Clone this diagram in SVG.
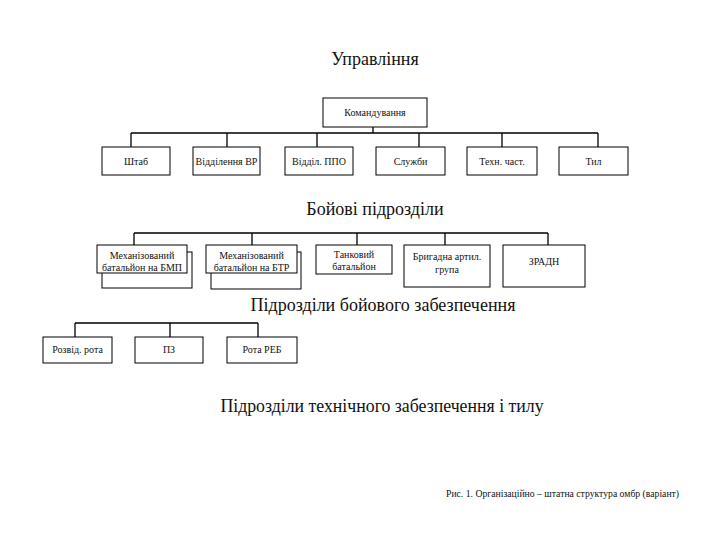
<svg xmlns="http://www.w3.org/2000/svg" width="720" height="540" viewBox="0 0 720 540">
<style>
text{font-family:"Liberation Serif","Times New Roman",serif;fill:#111;text-anchor:middle}
.h{font-size:18px}
.t{font-size:10px}
.c{font-size:9.7px;text-anchor:start}
.box{fill:#fff;stroke:#000;stroke-width:1}
.ln{fill:none;stroke:#000;stroke-width:1.3}
</style>
<rect width="720" height="540" fill="#fff"/>
<text class="h" x="375" y="65">Управління</text>
<text class="h" x="375" y="215">Бойові підрозділи</text>
<text class="h" x="383" y="311">Підрозділи бойового забезпечення</text>
<text class="h" x="382" y="412" style="font-size:17.8px">Підрозділи технічного забезпечення і тилу</text>
<text class="c" x="446" y="497">Рис. 1. Організаційно – штатна структура омбр (варіант)</text>
<g id="connectors">
<path class="ln" d="M373 127V133M131 133H598M131 133V147M227 133V147M317 133V147M419 133V147M502 133V147M598 133V147"/>
<path class="ln" d="M134 233H548M134 233V245M252 233V245M357 233V245M445 233V245M548 233V245"/>
<path class="ln" d="M75 323H258M75 323V337M170 323V337M258 323V337"/>
</g>
<g id="komanduvannia"><rect class="box" x="323" y="98" width="104" height="29"/><text class="t" x="375" y="116">Командування</text></g>
<g id="shtab"><rect class="box" x="102" y="147" width="68" height="28"/><text class="t" x="136" y="165">Штаб</text></g>
<g id="viddilennia-vr"><rect class="box" x="193" y="147" width="67" height="28"/><text class="t" x="226.5" y="165">Відділення ВР</text></g>
<g id="viddil-ppo"><rect class="box" x="285" y="147" width="68" height="28"/><text class="t" x="319" y="165">Відділ. ППО</text></g>
<g id="sluzhby"><rect class="box" x="376" y="147" width="69" height="28"/><text class="t" x="410.5" y="165">Служби</text></g>
<g id="tekhn-chast"><rect class="box" x="467" y="147" width="70" height="28"/><text class="t" x="502" y="165">Техн. част.</text></g>
<g id="tyl"><rect class="box" x="559" y="147" width="69" height="28"/><text class="t" x="593.5" y="165">Тил</text></g>
<g id="mb-bmp"><rect class="box" x="102" y="252" width="90" height="36"/><rect class="box" x="97" y="245" width="90" height="28"/><text class="t" x="142" y="259">Механізований</text><text class="t" x="142" y="271">батальйон на БМП</text></g>
<g id="mb-btr"><rect class="box" x="211" y="252" width="90" height="37"/><rect class="box" x="206" y="245" width="91" height="28"/><text class="t" x="251.5" y="259">Механізований</text><text class="t" x="251.5" y="271">батальйон на БТР</text></g>
<g id="tankovyi"><rect class="box" x="316" y="245" width="76" height="29"/><text class="t" x="354" y="258">Танковий</text><text class="t" x="354" y="270">батальйон</text></g>
<g id="bryhadna"><rect class="box" x="404" y="245" width="86" height="42"/><text class="t" x="447" y="260">Бригадна артил.</text><text class="t" x="447" y="273">група</text></g>
<g id="zradn"><rect class="box" x="503" y="245" width="82" height="42"/><text class="t" x="544" y="265">ЗРАДН</text></g>
<g id="rozvid-rota"><rect class="box" x="43" y="337" width="69" height="26"/><text class="t" x="77.5" y="353">Розвід. рота</text></g>
<g id="pz"><rect class="box" x="135" y="337" width="68" height="26"/><text class="t" x="169" y="353">ПЗ</text></g>
<g id="rota-reb"><rect class="box" x="227" y="337" width="70" height="26"/><text class="t" x="262" y="353">Рота РЕБ</text></g>
</svg>
